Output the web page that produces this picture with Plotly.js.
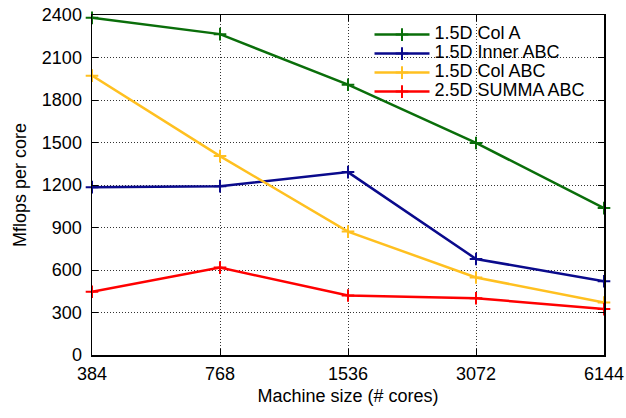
<!DOCTYPE html>
<html>
<head>
<meta charset="utf-8">
<script src="https://cdn.plot.ly/plotly-3.0.1.min.js"></script>
<style>html,body{margin:0;padding:0;background:#fff}#chart{width:626px;height:418px}</style>
</head>
<body>
<div id="chart"></div>
<script>
const cores = [384, 768, 1536, 3072, 6144];
const tickLabels = ["384", "768", "1536", "3072", "6144"];
const yTicks = [0, 300, 600, 900, 1200, 1500, 1800, 2100, 2400];
const seriesNames = ["1.5D Col A", "1.5D Inner ABC", "1.5D Col ABC", "2.5D SUMMA ABC"];
const colA = [2380, 2265, 1908, 1497, 1037];
const innerABC = [1185, 1192, 1291, 678, 521];
const colABC = [1972, 1404, 871, 547, 371];
const summaABC = [446, 617, 420, 401, 324];
const colors = ["#0a6e0a", "#0a0a8c", "#ffc020", "#ff0000"];
const allSeries = [colA, innerABC, colABC, summaABC];

const traces = allSeries.map((ys, i) => ({
  x: cores, y: ys, name: '<span style="font-size:18px">' + seriesNames[i] + '</span>',
  type: "scatter", mode: "lines+markers", cliponaxis: false,
  line: {color: colors[i], width: 2.5},
  marker: {symbol: "cross-thin-open", size: 9, line: {color: colors[i], width: 2}}
}));

const fam = "Liberation Sans, Arial, sans-serif";
const fnt = {family: fam, size: 18, color: "#000"};
const eps = 1e-6;
const layout = {
  width: 626, height: 418,
  margin: {l: 92, r: 22, t: 15, b: 63},
  paper_bgcolor: "#fff", plot_bgcolor: "#fff",
  font: fnt,
  showlegend: true,
  legend: {x: 0.542, y: 0.985, xanchor: "left", yanchor: "top", bgcolor: "rgba(0,0,0,0)",
           font: {family: fam, size: 12, color: "#000"}, tracegroupgap: 0, itemwidth: 55},
  xaxis: {
    type: "log", range: [Math.log10(384) - eps, Math.log10(6144) + eps],
    tickvals: cores, ticktext: tickLabels, ticks: "inside", ticklen: 6, tickcolor: "#000",
    showline: true, linecolor: "#000", linewidth: 1.5, mirror: "ticks",
    showgrid: true, gridcolor: "#333", griddash: "1px,2px", gridwidth: 1,
    zeroline: false, tickfont: fnt, ticklabelstandoff: 2,
    title: {text: "Machine size (# cores)", font: fnt, standoff: 6}
  },
  yaxis: {
    range: [0, 2400], tickvals: yTicks,
    ticks: "inside", ticklen: 6, tickcolor: "#000",
    showline: true, linecolor: "#000", linewidth: 1.5, mirror: "ticks",
    showgrid: true, gridcolor: "#333", griddash: "1px,2px", gridwidth: 1,
    zeroline: false, tickfont: fnt, ticklabelstandoff: 5,
    title: {text: "Mflops per core", font: fnt, standoff: 10}
  }
};
Plotly.newPlot("chart", traces, layout, {displayModeBar: false, staticPlot: true});
</script>
</body>
</html>
